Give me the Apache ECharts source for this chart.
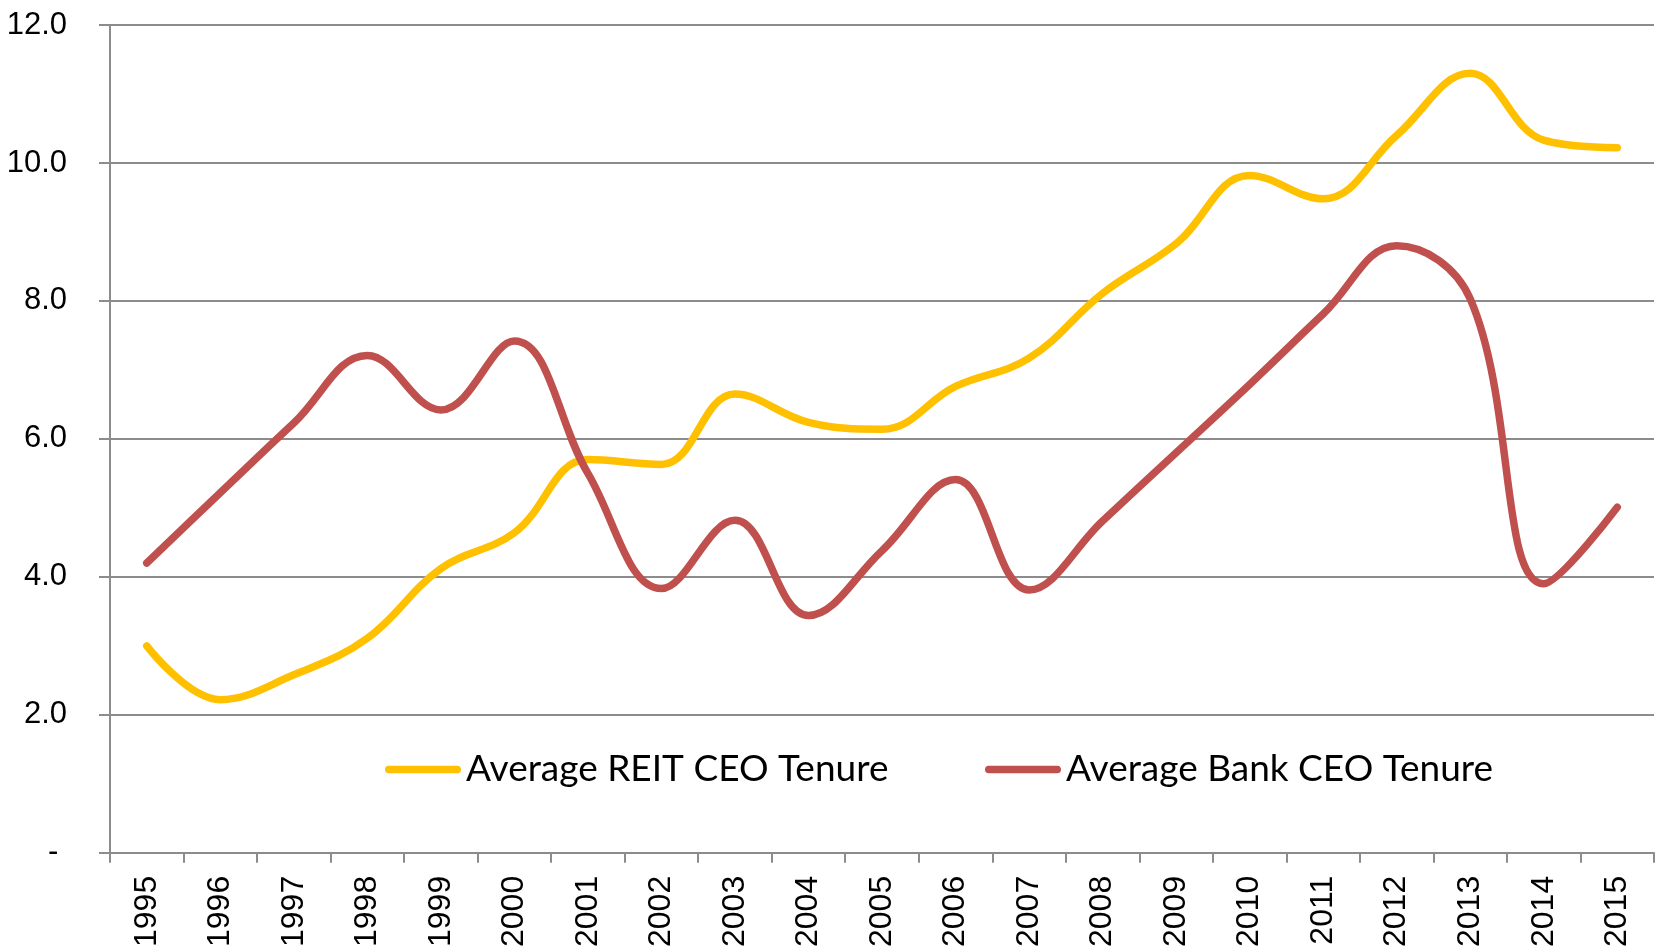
<!DOCTYPE html>
<html>
<head>
<meta charset="utf-8">
<script src="https://cdn.jsdelivr.net/npm/echarts@6/dist/echarts.min.js"></script>
<style>
html,body{margin:0;padding:0;background:#fff;}
#chart{width:1658px;height:950px;}
</style>
</head>
<body>
<div id="chart"></div>
<script>
var years = ['1995','1996','1997','1998','1999','2000','2001','2002','2003','2004','2005','2006','2007','2008','2009','2010','2011','2012','2013','2014','2015'];
var reitTenure = [3.0, 2.22, 2.58, 3.11, 4.12, 4.64, 5.70, 5.63, 6.65, 6.24, 6.14, 6.76, 7.17, 8.11, 8.83, 9.82, 9.48, 10.40, 11.30, 10.33, 10.22];
var bankTenure = [4.2, 5.22, 6.23, 7.21, 6.42, 7.42, 5.50, 3.83, 4.82, 3.44, 4.38, 5.41, 3.81, 4.81, 5.80, 6.79, 7.81, 8.80, 8.03, 3.90, 5.01];
var seriesNames = ['Average REIT CEO Tenure', 'Average Bank CEO Tenure'];

var axisFont = '"Liberation Sans", Arial, sans-serif';
var legendFont = 'Lato, "Open Sans", sans-serif';
var gray = '#8c8c8c';
var capsule = 'path://M5,0H95A5,5,0,0,1,95,10H5A5,5,0,0,1,5,0Z';

var chart = echarts.init(document.getElementById('chart'), null, {renderer: 'canvas'});
function legendCfg(name, left) {
  return {
    show: true, orient: 'horizontal', data: [name], left: left, top: 746,
    icon: capsule, itemWidth: 76, itemHeight: 8, itemGap: 0, selectedMode: false,
    textStyle: {fontFamily: legendFont, fontSize: 37, color: '#000'}
  };
}
chart.setOption({
  animation: false,
  backgroundColor: '#fff',
  grid: {left: 110, right: 4, top: 25, bottom: 93, containLabel: false},
  legend: [legendCfg(seriesNames[0], 380), legendCfg(seriesNames[1], 980)],
  xAxis: {
    type: 'category',
    data: years,
    boundaryGap: true,
    axisLine: {show: true, lineStyle: {color: gray, width: 2}},
    axisTick: {show: true, length: 10, lineStyle: {color: gray, width: 2}, alignWithLabel: false},
    axisLabel: {rotate: 90, margin: 23, fontFamily: axisFont, fontSize: 32, color: '#000', interval: 0},
    splitLine: {show: false}
  },
  yAxis: {
    type: 'value',
    min: 0, max: 12, interval: 2,
    axisLine: {show: true, lineStyle: {color: gray, width: 2}},
    axisTick: {show: true, length: 11, lineStyle: {color: gray, width: 2}},
    axisLabel: {margin: 43, fontFamily: axisFont, fontSize: 31, color: '#000',
      formatter: function (v) { return v === 0 ? '- ' : v.toFixed(1); }},
    splitLine: {show: true, lineStyle: {color: gray, width: 2}}
  },
  series: [
    {name: seriesNames[0], type: 'line', data: reitTenure, smooth: 0.4, symbol: 'none',
     lineStyle: {color: '#FFC000', width: 7.5, cap: 'round', join: 'round'}, itemStyle: {color: '#FFC000'}},
    {name: seriesNames[1], type: 'line', data: bankTenure, smooth: 0.4, symbol: 'none',
     lineStyle: {color: '#C0504D', width: 7.5, cap: 'round', join: 'round'}, itemStyle: {color: '#C0504D'}}
  ]
});
</script>
</body>
</html>
